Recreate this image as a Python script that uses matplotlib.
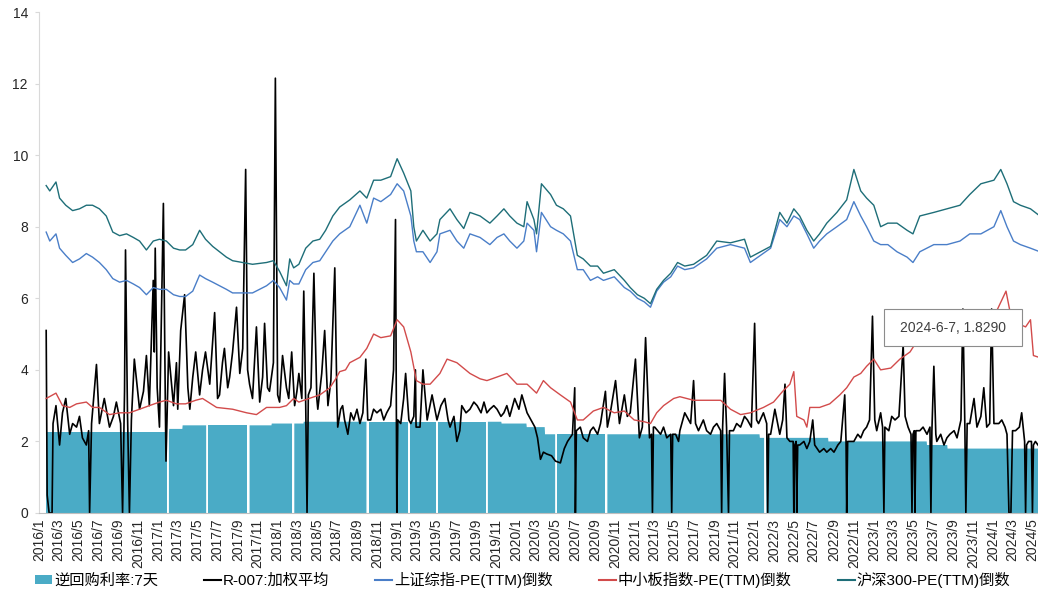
import numpy as np
import pandas as pd
import matplotlib
matplotlib.use('Agg')
import matplotlib.pyplot as plt
import matplotlib.dates as mdates
from matplotlib.patches import Patch, Rectangle
from matplotlib.lines import Line2D
from matplotlib.ticker import FuncFormatter

plt.rcParams['font.family'] = ['Liberation Sans', 'Noto Sans CJK SC', 'DejaVu Sans']
plt.rcParams['axes.unicode_minus'] = False

# 逆回购利率:7天 (policy rate changes) and the long holidays with no quote
rate_change_dates = ['2016-01-22', '2017-02-03', '2017-03-16', '2017-12-14', '2018-03-22', '2019-11-18',
                     '2020-02-03', '2020-03-30', '2022-01-17', '2022-08-15', '2023-06-13', '2023-08-15']
rate_values = [2.25, 2.35, 2.45, 2.50, 2.55, 2.50, 2.40, 2.20, 2.10, 2.00, 1.90, 1.80]
holiday_gaps = ['2017-01-27', '2017-05-28', '2017-10-01', '2018-02-15', '2018-10-01', '2019-02-04',
                '2019-05-01', '2019-10-01', '2020-05-01', '2020-10-01', '2022-01-31']

# R-007:加权平均
r007_dates = [
    '2016-01-23', '2016-01-26', '2016-02-01', '2016-02-10', '2016-02-13', '2016-02-22', '2016-03-04', '2016-03-13',
    '2016-03-23', '2016-04-04', '2016-04-13', '2016-04-25', '2016-05-04', '2016-05-13', '2016-05-25', '2016-06-01',
    '2016-06-04', '2016-06-10', '2016-06-25', '2016-07-04', '2016-07-19', '2016-08-04', '2016-08-16', '2016-08-25',
    '2016-09-07', '2016-09-13', '2016-09-19', '2016-09-22', '2016-09-28', '2016-10-04', '2016-10-10', '2016-10-19',
    '2016-11-04', '2016-11-16', '2016-11-25', '2016-12-04', '2016-12-16', '2016-12-19', '2016-12-22', '2016-12-28',
    '2017-01-04', '2017-01-16', '2017-01-22', '2017-01-24', '2017-02-01', '2017-02-16', '2017-02-25', '2017-03-01',
    '2017-03-10', '2017-03-22', '2017-04-01', '2017-04-07', '2017-04-16', '2017-04-25', '2017-05-07', '2017-05-16',
    '2017-05-25', '2017-06-07', '2017-06-22', '2017-07-01', '2017-07-07', '2017-07-16', '2017-07-22', '2017-08-01',
    '2017-08-07', '2017-08-16', '2017-08-28', '2017-09-07', '2017-09-16', '2017-09-25', '2017-10-01', '2017-10-07',
    '2017-10-16', '2017-10-28', '2017-11-07', '2017-11-16', '2017-11-22', '2017-12-01', '2017-12-07', '2017-12-19',
    '2017-12-25', '2018-01-01', '2018-01-07', '2018-01-16', '2018-01-28', '2018-02-04', '2018-02-13', '2018-02-22',
    '2018-03-01', '2018-03-07', '2018-03-16', '2018-03-22', '2018-03-28', '2018-04-01', '2018-04-05', '2018-04-13',
    '2018-04-22', '2018-05-01', '2018-05-04', '2018-05-16', '2018-05-25', '2018-06-04', '2018-06-13', '2018-06-25',
    '2018-07-01', '2018-07-04', '2018-07-13', '2018-07-19', '2018-07-25', '2018-08-04', '2018-08-13', '2018-08-22',
    '2018-09-01', '2018-09-10', '2018-09-19', '2018-09-28', '2018-10-04', '2018-10-13', '2018-10-22', '2018-11-01',
    '2018-11-13', '2018-11-22', '2018-12-01', '2018-12-13', '2018-12-22', '2018-12-28', '2019-01-01', '2019-01-04',
    '2019-01-13', '2019-01-22', '2019-01-28', '2019-02-07', '2019-02-13', '2019-02-22', '2019-02-27', '2019-03-01',
    '2019-03-13', '2019-03-22', '2019-04-04', '2019-04-19', '2019-05-04', '2019-05-16', '2019-05-28', '2019-06-07',
    '2019-06-13', '2019-06-25', '2019-07-04', '2019-07-13', '2019-07-19', '2019-08-01', '2019-08-13', '2019-08-25',
    '2019-09-04', '2019-09-16', '2019-09-25', '2019-10-04', '2019-10-13', '2019-10-25', '2019-11-04', '2019-11-16',
    '2019-11-25', '2019-12-04', '2019-12-13', '2019-12-28', '2020-01-10', '2020-01-19', '2020-02-04', '2020-02-16',
    '2020-02-28', '2020-03-07', '2020-03-16', '2020-03-25', '2020-04-04', '2020-04-19', '2020-05-01', '2020-05-16',
    '2020-05-28', '2020-06-07', '2020-06-22', '2020-06-29', '2020-07-01', '2020-07-04', '2020-07-16', '2020-07-25',
    '2020-08-07', '2020-08-16', '2020-08-25', '2020-09-07', '2020-09-16', '2020-10-01', '2020-10-07', '2020-10-16',
    '2020-11-01', '2020-11-13', '2020-11-28', '2020-12-07', '2020-12-16', '2021-01-01', '2021-01-13', '2021-01-22',
    '2021-02-01', '2021-02-13', '2021-02-19', '2021-02-22', '2021-02-25', '2021-03-01', '2021-03-19', '2021-03-28',
    '2021-04-07', '2021-04-19', '2021-04-22', '2021-04-25', '2021-05-04', '2021-05-13', '2021-05-17', '2021-06-01',
    '2021-06-19', '2021-06-28', '2021-07-04', '2021-07-13', '2021-07-28', '2021-08-07', '2021-08-19', '2021-08-28',
    '2021-09-07', '2021-09-19', '2021-09-22', '2021-09-25', '2021-10-01', '2021-10-07', '2021-10-13', '2021-10-16',
    '2021-10-28', '2021-11-07', '2021-11-19', '2021-12-01', '2021-12-10', '2021-12-22', '2022-01-01', '2022-01-07',
    '2022-01-13', '2022-01-28', '2022-02-07', '2022-02-10', '2022-02-13', '2022-02-19', '2022-03-04', '2022-03-19',
    '2022-03-28', '2022-04-04', '2022-04-10', '2022-04-19', '2022-04-29', '2022-05-01', '2022-05-04', '2022-05-08',
    '2022-05-10', '2022-05-13', '2022-05-19', '2022-06-01', '2022-06-10', '2022-06-19', '2022-06-28', '2022-07-04',
    '2022-07-19', '2022-08-01', '2022-08-10', '2022-08-22', '2022-09-01', '2022-09-13', '2022-09-22', '2022-10-04',
    '2022-10-08', '2022-10-10', '2022-10-13', '2022-11-01', '2022-11-13', '2022-11-22', '2022-12-01', '2022-12-10',
    '2022-12-19', '2022-12-28', '2023-01-04', '2023-01-10', '2023-01-22', '2023-01-28', '2023-02-01', '2023-02-04',
    '2023-02-16', '2023-02-25', '2023-03-07', '2023-03-19', '2023-04-01', '2023-04-07', '2023-04-16', '2023-04-25',
    '2023-04-28', '2023-05-01', '2023-05-05', '2023-05-07', '2023-05-10', '2023-05-22', '2023-06-01', '2023-06-13',
    '2023-06-22', '2023-06-25', '2023-06-28', '2023-07-04', '2023-07-10', '2023-07-13', '2023-07-25', '2023-08-04',
    '2023-08-13', '2023-08-22', '2023-09-04', '2023-09-13', '2023-09-25', '2023-10-01', '2023-10-07', '2023-10-10',
    '2023-10-14', '2023-10-22', '2023-11-04', '2023-11-13', '2023-11-25', '2023-12-04', '2023-12-13', '2023-12-22',
    '2023-12-28', '2024-01-04', '2024-01-10', '2024-01-19', '2024-01-28', '2024-02-07', '2024-02-13', '2024-02-19',
    '2024-02-25', '2024-03-01', '2024-03-10', '2024-03-22', '2024-03-29', '2024-04-07', '2024-04-10', '2024-04-13',
    '2024-04-19', '2024-04-28', '2024-05-01', '2024-05-04', '2024-05-10', '2024-05-22', '2024-06-07']
r007_values = [
    5.1, 0.5, 0.0, 0.0, 2.5, 3.0, 1.9, 2.8,
    3.2, 2.2, 2.5, 2.4, 2.7, 2.1, 1.9, 2.3,
    0.0, 2.5, 4.15, 2.5, 3.2, 2.4, 2.7, 3.1,
    2.5, 0.0, 3.4, 7.35, 2.8, 0.0, 2.6, 4.3,
    2.9, 3.4, 4.4, 3.0, 6.5, 4.5, 7.4, 3.5,
    2.4, 8.65, 3.0, 1.45, 4.5, 3.0, 4.2, 2.9,
    5.1, 6.1, 3.5, 2.9, 3.8, 4.5, 3.3, 4.0,
    4.5, 3.6, 5.6, 3.2, 3.3, 4.2, 4.6, 3.5,
    3.8, 4.5, 5.75, 3.9, 4.6, 9.6, 4.0, 3.6,
    3.2, 5.2, 3.1, 3.8, 5.3, 3.5, 3.4, 4.2,
    12.15, 3.3, 3.1, 4.4, 3.5, 3.2, 4.5, 3.0,
    3.4, 3.9, 3.2, 6.2, 3.0, 0.0, 3.3, 3.5,
    6.7, 3.2, 2.9, 3.9, 5.1, 3.0, 3.7, 6.85,
    3.5, 2.4, 2.9, 3.0, 2.6, 2.2, 2.8, 2.6,
    2.9, 2.5, 2.8, 4.3, 2.6, 2.6, 2.9, 2.8,
    2.9, 2.6, 2.8, 3.0, 4.0, 8.2, 0.0, 2.6,
    2.5, 3.2, 3.9, 2.6, 2.5, 2.7, 4.0, 2.4,
    2.4, 4.0, 2.6, 3.3, 2.6, 3.0, 3.2, 2.6,
    2.4, 2.7, 2.0, 2.3, 3.0, 2.8, 2.9, 3.1,
    3.0, 2.8, 3.1, 2.8, 2.9, 3.0, 2.9, 2.7,
    2.8, 3.0, 2.7, 3.2, 2.9, 3.3, 2.8, 2.6,
    2.4, 2.1, 1.5, 1.7, 1.65, 1.6, 1.45, 1.4,
    1.8, 2.0, 2.2, 3.5, 0.0, 2.3, 2.4, 2.1,
    2.0, 2.3, 2.4, 2.2, 2.5, 3.4, 2.4, 2.8,
    3.7, 2.5, 3.3, 2.7, 2.8, 4.3, 2.1, 2.4,
    4.9, 2.1, 2.2, 0.0, 2.4, 2.4, 2.2, 2.4,
    2.1, 2.2, 0.0, 2.2, 2.2, 2.0, 2.3, 2.8,
    2.5, 3.7, 2.5, 2.3, 2.6, 2.3, 2.2, 2.4,
    2.5, 2.3, 0.0, 2.4, 3.9, 2.4, 0.0, 2.3,
    2.3, 2.5, 2.4, 2.7, 2.6, 2.4, 5.3, 2.6,
    2.5, 2.8, 2.5, 0.0, 2.2, 2.2, 2.9, 2.2,
    2.6, 3.6, 2.1, 2.0, 2.0, 0.0, 1.9, 2.0,
    0.0, 1.9, 1.9, 2.0, 1.8, 2.0, 2.6, 1.9,
    1.7, 1.8, 1.7, 1.8, 1.7, 1.9, 2.0, 3.3,
    2.0, 0.0, 2.0, 2.0, 2.2, 2.1, 2.3, 2.4,
    2.6, 5.5, 2.6, 2.3, 2.8, 2.4, 0.0, 2.4,
    2.3, 2.7, 2.6, 2.7, 4.7, 2.7, 2.4, 2.2,
    0.0, 2.2, 2.3, 0.0, 2.3, 2.3, 2.4, 2.2,
    2.4, 0.0, 2.3, 4.1, 2.2, 2.0, 2.2, 1.9,
    2.1, 2.2, 2.3, 2.1, 2.6, 5.7, 2.4, 0.0,
    2.5, 2.5, 3.2, 2.4, 2.7, 3.5, 2.4, 2.5,
    5.7, 2.5, 2.5, 2.5, 2.6, 2.4, 2.2, 0.0,
    0.0, 2.3, 2.3, 2.4, 2.8, 2.0, 0.0, 1.9,
    2.0, 2.0, 0.0, 1.9, 2.0, 1.85, 1.829]

# 上证综指 / 沪深300 PE(TTM) 倒数
pe_dates = [
    '2016-01-23', '2016-02-03', '2016-02-22', '2016-03-04', '2016-03-23', '2016-04-13', '2016-05-04', '2016-05-25',
    '2016-06-13', '2016-07-04', '2016-07-25', '2016-08-14', '2016-09-04', '2016-09-25', '2016-10-16', '2016-11-04',
    '2016-11-25', '2016-12-16', '2017-01-04', '2017-01-25', '2017-02-16', '2017-03-07', '2017-03-25', '2017-04-16',
    '2017-05-07', '2017-05-25', '2017-06-16', '2017-07-07', '2017-07-28', '2017-08-16', '2017-09-16', '2017-10-16',
    '2017-11-28', '2017-12-19', '2018-01-07', '2018-01-28', '2018-02-07', '2018-02-19', '2018-03-07', '2018-03-28',
    '2018-04-19', '2018-05-10', '2018-05-28', '2018-06-19', '2018-07-10', '2018-08-10', '2018-09-10', '2018-10-01',
    '2018-10-22', '2018-11-13', '2018-12-13', '2019-01-02', '2019-01-22', '2019-02-13', '2019-02-22', '2019-03-02',
    '2019-03-22', '2019-04-13', '2019-05-04', '2019-05-13', '2019-06-13', '2019-07-04', '2019-07-25', '2019-08-13',
    '2019-09-13', '2019-10-13', '2019-11-04', '2019-11-25', '2019-12-13', '2020-01-04', '2020-01-25', '2020-02-04',
    '2020-02-25', '2020-03-04', '2020-03-19', '2020-04-16', '2020-05-04', '2020-05-25', '2020-06-16', '2020-07-07',
    '2020-07-25', '2020-08-16', '2020-09-07', '2020-09-25', '2020-10-28', '2020-11-28', '2020-12-16', '2021-01-07',
    '2021-01-28', '2021-02-16', '2021-03-07', '2021-03-28', '2021-04-19', '2021-05-10', '2021-06-01', '2021-06-28',
    '2021-08-07', '2021-09-07', '2021-10-19', '2021-12-01', '2021-12-19', '2022-01-19', '2022-02-19', '2022-03-19',
    '2022-04-10', '2022-05-01', '2022-05-19', '2022-06-10', '2022-07-01', '2022-07-19', '2022-08-10', '2022-09-10',
    '2022-10-10', '2022-11-01', '2022-11-22', '2022-12-10', '2023-01-01', '2023-01-22', '2023-02-13', '2023-03-13',
    '2023-04-13', '2023-05-01', '2023-05-22', '2023-07-04', '2023-08-13', '2023-09-22', '2023-10-22', '2023-11-25',
    '2024-01-04', '2024-01-25', '2024-02-13', '2024-03-04', '2024-03-25', '2024-04-25', '2024-06-07']
hs300_values = [
    9.15, 9.0, 9.25, 8.8, 8.6, 8.45, 8.5, 8.6,
    8.6, 8.5, 8.3, 7.85, 7.75, 7.8, 7.7, 7.6,
    7.35, 7.6, 7.65, 7.6, 7.4, 7.35, 7.35, 7.5,
    7.9, 7.65, 7.45, 7.3, 7.15, 7.05, 7.0, 6.95,
    7.0, 7.05, 6.75, 6.35, 7.1, 6.85, 6.95, 7.4,
    7.6, 7.65, 7.9, 8.3, 8.55, 8.75, 9.0, 8.8,
    9.3, 9.3, 9.4, 9.9, 9.5, 9.0, 8.0, 7.6,
    7.9, 7.6, 7.8, 8.2, 8.5, 8.2, 7.95, 8.4,
    8.3, 8.1, 8.3, 8.5, 8.3, 8.1, 8.0, 8.7,
    8.2, 7.8, 9.2, 8.9, 8.6, 8.5, 8.3, 7.2,
    7.1, 6.9, 6.9, 6.7, 6.8, 6.5, 6.3, 6.1,
    6.0, 5.85, 6.25, 6.5, 6.7, 7.0, 6.9, 6.95,
    7.2, 7.6, 7.55, 7.65, 7.15, 7.3, 7.45, 8.4,
    8.1, 8.5, 8.3, 7.9, 7.6, 7.8, 8.1, 8.4,
    8.75, 9.6, 9.0, 8.8, 8.6, 8.0, 8.1, 8.1,
    7.9, 7.8, 8.3, 8.4, 8.5, 8.6, 8.9, 9.2,
    9.3, 9.6, 9.2, 8.7, 8.6, 8.5, 8.2]
szzz_values = [
    7.85, 7.6, 7.8, 7.4, 7.2, 7.0, 7.1, 7.25,
    7.15, 7.0, 6.8, 6.55, 6.45, 6.5, 6.4, 6.3,
    6.1, 6.3, 6.25, 6.25, 6.1, 6.05, 6.05, 6.2,
    6.65, 6.55, 6.45, 6.35, 6.25, 6.15, 6.15, 6.15,
    6.35, 6.5, 6.3, 5.95, 6.5, 6.4, 6.4, 6.8,
    7.0, 7.05, 7.3, 7.6, 7.8, 8.0, 8.6, 8.1,
    8.8, 8.7, 8.9, 9.2, 9.0, 8.3, 7.6, 7.3,
    7.3, 7.0, 7.3, 7.8, 7.9, 7.6, 7.4, 7.8,
    7.7, 7.5, 7.7, 7.8, 7.6, 7.4, 7.6, 8.1,
    7.9, 7.3, 8.4, 8.0, 7.9, 7.8, 7.6, 6.8,
    6.8, 6.5, 6.6, 6.5, 6.6, 6.3, 6.2, 6.0,
    5.9, 5.75, 6.2, 6.45, 6.6, 6.9, 6.8, 6.85,
    7.1, 7.4, 7.5, 7.4, 7.0, 7.2, 7.4, 8.2,
    8.0, 8.3, 8.2, 7.8, 7.4, 7.6, 7.8, 8.0,
    8.2, 8.7, 8.3, 8.0, 7.6, 7.5, 7.5, 7.3,
    7.15, 7.0, 7.3, 7.5, 7.5, 7.6, 7.8, 7.8,
    8.0, 8.45, 8.0, 7.6, 7.5, 7.4, 7.25]

# 中小板指数-PE(TTM)倒数
zxb_dates = [
    '2016-01-23', '2016-02-22', '2016-03-13', '2016-04-04', '2016-04-25', '2016-05-25', '2016-06-13', '2016-07-04',
    '2016-08-04', '2016-09-04', '2016-10-04', '2016-11-04', '2016-12-04', '2017-01-04', '2017-01-25', '2017-02-25',
    '2017-03-25', '2017-04-25', '2017-05-16', '2017-06-28', '2017-08-16', '2017-09-28', '2017-10-28', '2017-11-28',
    '2018-01-07', '2018-01-28', '2018-02-19', '2018-03-07', '2018-04-07', '2018-05-10', '2018-06-10', '2018-06-28',
    '2018-07-10', '2018-07-28', '2018-08-10', '2018-09-10', '2018-10-01', '2018-10-22', '2018-11-13', '2018-12-13',
    '2019-01-02', '2019-01-22', '2019-02-13', '2019-03-02', '2019-03-22', '2019-04-13', '2019-05-13', '2019-06-04',
    '2019-07-04', '2019-08-13', '2019-09-13', '2019-10-04', '2019-11-04', '2019-12-04', '2020-01-04', '2020-02-04',
    '2020-03-04', '2020-03-25', '2020-04-16', '2020-05-16', '2020-06-16', '2020-07-07', '2020-07-25', '2020-08-25',
    '2020-09-25', '2020-10-28', '2020-11-28', '2020-12-28', '2021-01-28', '2021-02-16', '2021-03-07', '2021-03-28',
    '2021-04-28', '2021-05-17', '2021-06-28', '2021-08-07', '2021-09-19', '2021-10-19', '2021-11-19', '2021-12-19',
    '2022-01-28', '2022-02-28', '2022-03-28', '2022-04-19', '2022-05-01', '2022-05-10', '2022-06-01', '2022-06-10',
    '2022-06-19', '2022-07-19', '2022-08-19', '2022-09-19', '2022-10-10', '2022-11-01', '2022-11-22', '2022-12-10',
    '2023-01-01', '2023-01-22', '2023-02-22', '2023-03-22', '2023-04-22', '2023-05-13', '2023-06-22', '2023-07-16',
    '2023-09-01', '2023-10-16', '2023-12-01', '2024-01-10', '2024-02-10', '2024-02-25', '2024-03-16', '2024-04-10',
    '2024-04-25', '2024-05-04', '2024-06-07']
zxb_values = [
    3.2, 3.35, 3.0, 2.95, 3.05, 3.1, 2.95, 2.95,
    2.75, 2.8, 2.8, 2.9, 3.0, 3.1, 3.15, 3.05,
    3.05, 3.15, 3.2, 2.95, 2.9, 2.8, 2.75, 2.95,
    2.95, 3.0, 3.2, 3.1, 3.2, 3.3, 3.5, 3.75,
    3.95, 4.0, 4.2, 4.35, 4.6, 5.0, 4.9, 4.95,
    5.4, 5.2, 4.5, 3.7, 3.6, 3.6, 3.9, 4.3,
    4.2, 3.9, 3.75, 3.7, 3.8, 3.9, 3.6, 3.6,
    3.35, 3.7, 3.5, 3.3, 3.1, 2.6, 2.6, 2.85,
    2.95, 2.8, 2.85, 2.6, 2.55, 2.5, 2.8, 3.0,
    3.2, 3.25, 3.15, 3.15, 3.15, 2.9, 2.75, 2.8,
    2.95, 3.1, 3.4, 3.6, 3.95, 2.7, 2.6, 2.4,
    2.95, 2.95, 3.05, 3.3, 3.5, 3.8, 3.9, 4.1,
    4.3, 4.0, 4.05, 4.3, 4.5, 4.8, 4.75, 4.8,
    4.9, 5.0, 5.2, 5.6, 6.2, 5.5, 5.3, 5.2,
    5.4, 4.4, 4.3]

labels = ['逆回购利率:7天', 'R-007:加权平均', '上证综指-PE(TTM)倒数', '中小板指数-PE(TTM)倒数', '沪深300-PE(TTM)倒数']
colors = ['#4AABC6', '#000000', '#4A7EC8', '#D24B4B', '#1E6E78']

# daily policy rate, blank over the long holidays
days = pd.date_range(rate_change_dates[0], pe_dates[-1], freq='D')
idx = np.searchsorted(pd.to_datetime(rate_change_dates).values, days.values, side='right') - 1
rate = np.array(rate_values, dtype=float)[idx]
for g in pd.to_datetime(holiday_gaps):
    rate[(days >= g) & (days <= g + pd.Timedelta(days=5))] = np.nan

fig = plt.figure(figsize=(10.38, 6.01), dpi=100)
ax = fig.add_axes([39 / 1038, 88 / 601, 999 / 1038, 501 / 601])

ax.fill_between(days, 0, rate, color=colors[0], lw=0, zorder=1)
ax.plot(pd.to_datetime(r007_dates), r007_values, color=colors[1], lw=1.2, zorder=2)
ax.plot(pd.to_datetime(pe_dates), szzz_values, color=colors[2], lw=1.0, zorder=3)
ax.plot(pd.to_datetime(zxb_dates), zxb_values, color=colors[3], lw=1.0, zorder=4)
ax.plot(pd.to_datetime(pe_dates), hs300_values, color=colors[4], lw=1.0, zorder=5)

ax.set_xlim(pd.Timestamp('2016-01-01'), pd.Timestamp('2024-05-18'))
ax.set_ylim(0, 14)
ax.set_yticks(range(0, 15, 2))
ax.xaxis.set_major_locator(mdates.MonthLocator(bymonth=[1, 3, 5, 7, 9, 11]))
ax.xaxis.set_major_formatter(FuncFormatter(lambda v, p: f"{mdates.num2date(v).year}/{mdates.num2date(v).month}"))
for t in ax.get_xticklabels():
    t.set_rotation(90)

ax.tick_params(axis='x', length=0, pad=4, labelsize=10, labelcolor='#262626')
ax.tick_params(axis='y', length=3, color='#D9D9D9', pad=5, labelsize=10, labelcolor='#262626')
for s in ['top', 'right']:
    ax.spines[s].set_visible(False)
ax.spines['left'].set_color('#D9D9D9')
ax.spines['bottom'].set_color('#BFBFBF')

# data label box
ax.add_patch(Rectangle((0.846, 0.333), 0.138, 0.074, transform=ax.transAxes,
                       facecolor='white', edgecolor='#8C8C8C', lw=0.8, zorder=6))
ax.text(0.915, 0.370, '2024-6-7, 1.8290', transform=ax.transAxes, ha='center', va='center',
        fontsize=10, color='#404040', zorder=7)

handles = [Patch(facecolor=colors[0], edgecolor='none')] + \
          [Line2D([0], [0], color=c, lw=1.5) for c in colors[1:]]
fig.legend(handles, labels, loc='center left', bbox_to_anchor=(35 / 1038, 21 / 601), ncol=5,
           frameon=False, fontsize=11, handlelength=1.1, handleheight=0.5, handletextpad=0.15,
           columnspacing=3.0, borderpad=0, borderaxespad=0)

fig.savefig('out.png', dpi=100)
